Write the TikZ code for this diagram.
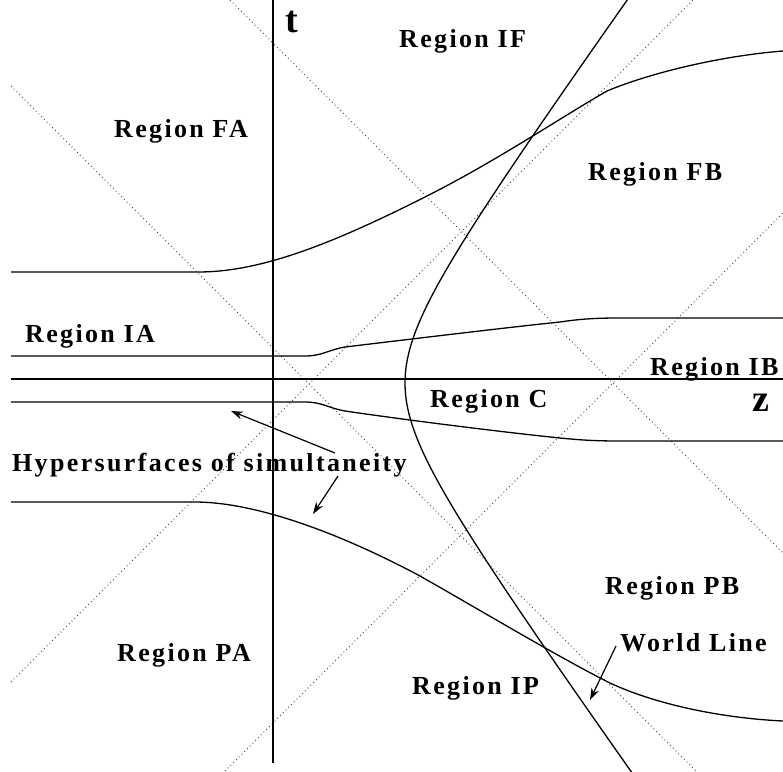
\documentclass[tikz,border=0pt]{standalone}
\usepackage{fontspec}
\newfontfamily\lblfont{Liberation Serif}[LetterSpace=9]
\newfontfamily\axfont{Liberation Serif}
\usetikzlibrary{arrows.meta}
\tikzset{
  lab/.style={font=\lblfont\bfseries\fontsize{26}{30}\selectfont, inner sep=0pt, anchor=base west},
  axlab/.style={font=\axfont\bfseries\fontsize{38}{40}\selectfont, inner sep=0pt, anchor=base west},
  axis/.style={line width=1.4pt, black},
  surf/.style={line width=1.3pt, black},
  cone/.style={line width=0.9pt, black!75, dash pattern=on 0.9pt off 3pt},
  wl/.style={line width=1.3pt, black},
  arr/.style={line width=1.2pt, -{Stealth[length=12pt, width=8pt]}}
}
\begin{document}
\begin{tikzpicture}[x=1pt, y=-1pt]
\useasboundingbox (0,0) rectangle (783,771);
\clip (0,0) rectangle (783,771);
% light cones
\draw[cone] (230,0) -- (783,553);
\draw[cone] (11,86) -- (700,775);
\draw[cone] (11,682) -- (693,0);
\draw[cone] (225,771) -- (783,213);
% axes
\draw[axis] (273,0) -- (273,763);
\draw[axis] (11,379) -- (783,379);
% hypersurfaces
\draw[surf] (11,272) -- (198,272) .. controls (260,272) and (330,245) .. (427,196)
   .. controls (497,160.6) and (560,118) .. (607,91)
   .. controls (650,73) and (720,56) .. (783,51);
\draw[surf] (11,356) -- (305,356) .. controls (322,356) and (328,350) .. (345,347)
   .. controls (420,338) and (520,326) .. (560,322)
   .. controls (580,319) and (595,318) .. (620,318) -- (783,318);
\draw[surf] (11,402) -- (305,402) .. controls (322,402) and (328,408) .. (345,411)
   .. controls (420,422) and (520,434) .. (560,438)
   .. controls (580,440) and (595,441) .. (620,441) -- (783,441);
\draw[surf] (11,502) -- (195,502) .. controls (250,502) and (330,528) .. (420,576)
   .. controls (480,610) and (560,658) .. (610,683)
   .. controls (655,704) and (720,718) .. (783,721);
% world line
\draw[wl] plot[domain=-2.26:2.26, samples=120, smooth] ({345+60*cosh(\x)}, {383+83.33*sinh(\x)});
% labels
\node[axlab] (tlab) at (285,32) {t};
\node[axlab] (zlab) at (752,411) {z};
\node[lab] (IF) at (399,47) {Region IF};
\node[lab] (FA) at (114,137) {Region FA};
\node[lab] (FB) at (588,180) {Region FB};
\node[lab] (IA) at (25,342) {Region IA};
\node[lab] (IB) at (650,375) {Region IB};
\node[lab] (C) at (430,407) {Region C};
\node[lab] (hyp) at (12,471) {Hypersurfaces of simultaneity};
\node[lab] (PA) at (117,661) {Region PA};
\node[lab] (PB) at (605,594) {Region PB};
\node[lab] (WL) at (620,651) {World Line};
\node[lab] (IP) at (412,694) {Region IP};
% arrows
\coordinate (h1) at (335,453);
\coordinate (h1t) at (231,411);
\coordinate (h2) at (338,476);
\coordinate (h2t) at (313,514);
\coordinate (w1) at (616,646);
\coordinate (w1t) at (590,700);
\draw[arr] (h1) -- (h1t);
\draw[arr] (h2) -- (h2t);
\draw[arr] (w1) -- (w1t);
\end{tikzpicture}
\end{document}
